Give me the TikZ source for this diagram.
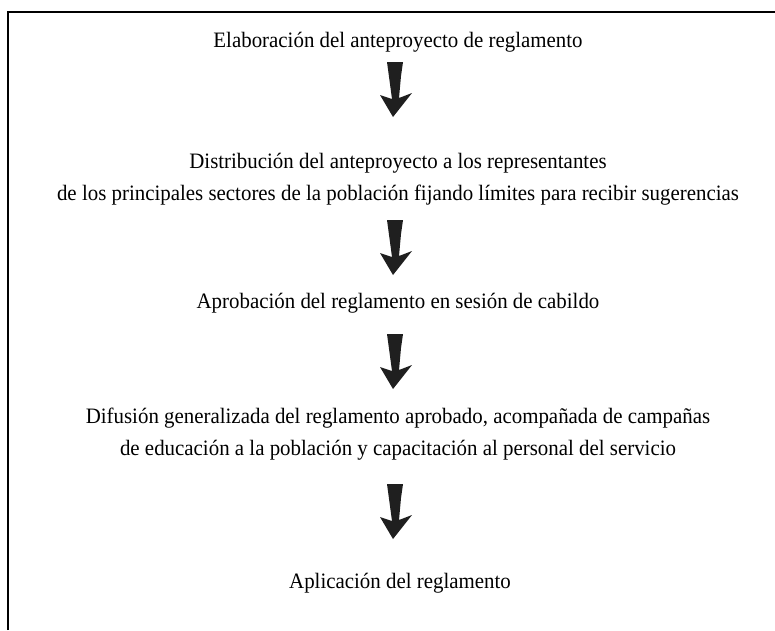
\documentclass[tikz,border=0pt]{standalone}
\usepackage{fontspec}
\setmainfont[FakeStretch=0.95]{Liberation Serif}
\tikzset{
  steptext/.style={align=center, anchor=base, inner sep=0pt,
    font=\fontsize{22}{32}\selectfont},
  frameline/.style={line width=2.2pt},
  bigarrowfill/.style={fill=black!88, draw=none}
}
\newcommand{\downarrowshape}[1]{%
  \fill[bigarrowfill, shift={(#1)}] (-8,0) -- (8,0) -- (6,14) -- (4,36) -- (17,31)
    -- (-2,55) -- (-15,33) -- (-3,37) -- cycle;}
\begin{document}
\begin{tikzpicture}[x=1pt,y=-1pt]
\useasboundingbox (0,0) rectangle (775,630);
\draw[frameline] (8,630) -- (8,12) -- (775,12);
\node[steptext] (s1) at (398,47) {Elaboración del anteproyecto de reglamento};
\node[steptext] (s2) at (398,200) {Distribución del anteproyecto a los representantes\\de los principales sectores de la población fijando límites para recibir sugerencias};
\node[steptext] (s3) at (398,308) {Aprobación del reglamento en sesión de cabildo};
\node[steptext] (s4) at (398,455) {Difusión generalizada del reglamento aprobado, acompañada de campañas\\de educación a la población y capacitación al personal del servicio};
\node[steptext] (s5) at (400,588) {Aplicación del reglamento};
\coordinate (a1) at (395,62);
\coordinate (a2) at (395,220);
\coordinate (a3) at (395,334);
\coordinate (a4) at (395,484);
\downarrowshape{a1}
\downarrowshape{a2}
\downarrowshape{a3}
\downarrowshape{a4}
\end{tikzpicture}
\end{document}
